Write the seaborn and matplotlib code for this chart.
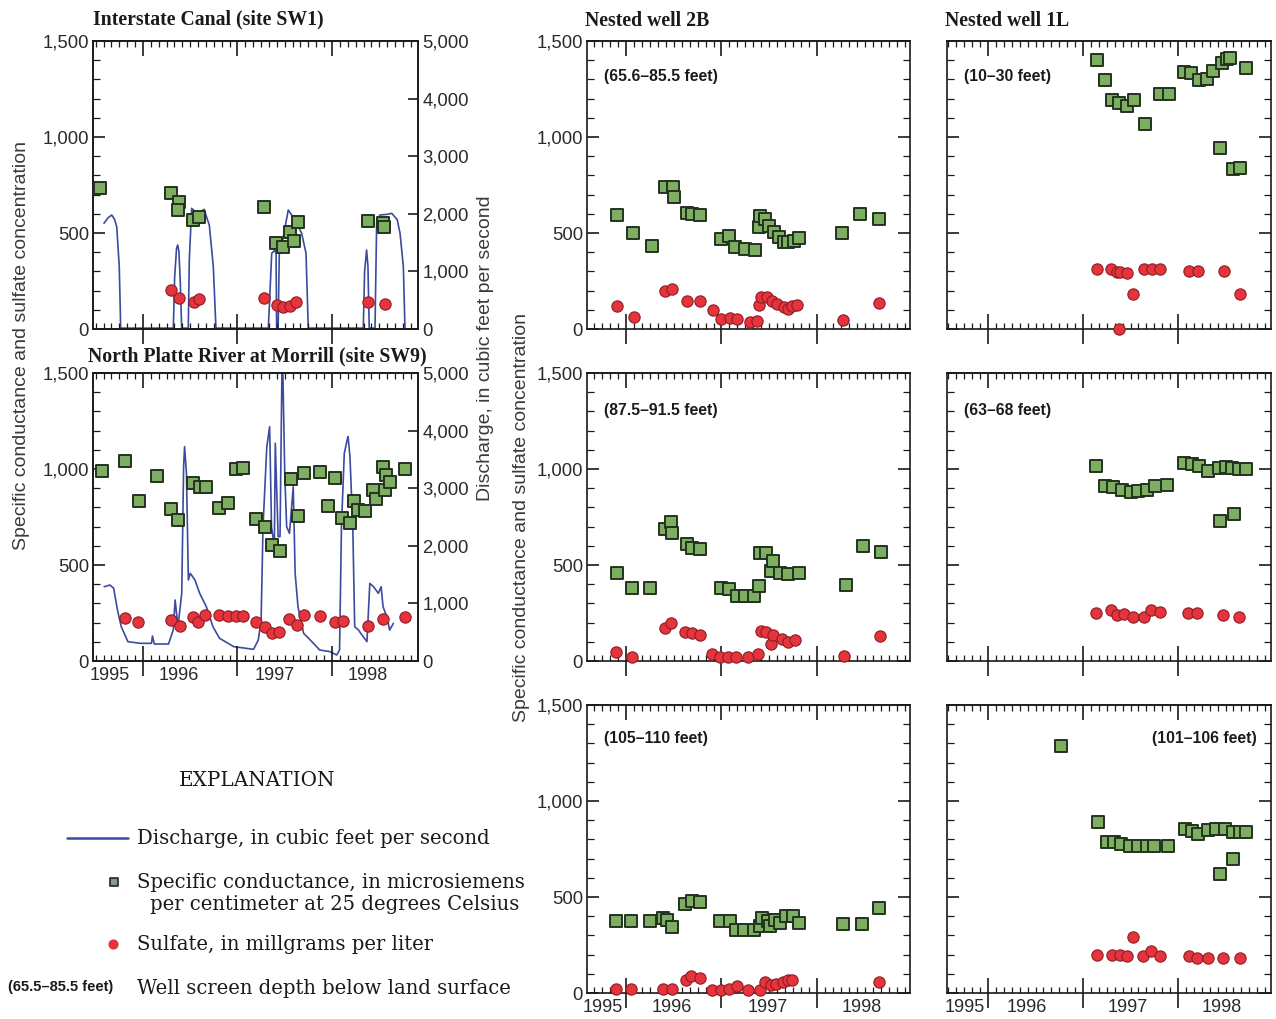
import numpy as np
import pandas as pd
import matplotlib
matplotlib.use('Agg')
import matplotlib.pyplot as plt
from matplotlib.ticker import MultipleLocator, FuncFormatter, NullFormatter
import seaborn as sns

sns.set_theme(style='ticks')
plt.rcParams['font.family'] = ['Liberation Sans', 'DejaVu Sans']

# ---- data (decimal years) ----
year_ticks = [1996, 1997, 1998]
year_labels = ['1995', '1996', '1997', '1998']

# Interstate Canal (SW1)
sw1_q_year = [1995.587, 1995.63, 1995.669, 1995.70, 1995.722, 1995.749, 1995.764,
              1996.321, 1996.335, 1996.355, 1996.367, 1996.38, 1996.395, 1996.409,
              1996.479, 1996.49, 1996.515, 1996.58, 1996.646, 1996.702, 1996.744, 1996.772,
              1997.326, 1997.34, 1997.362, 1997.397, 1997.408, 1997.414, 1997.43,
              1997.443, 1997.467, 1997.492, 1997.537, 1997.608, 1997.679, 1997.725, 1997.749,
              1998.331, 1998.345, 1998.366, 1998.38, 1998.394,
              1998.455, 1998.473, 1998.508, 1998.58, 1998.632, 1998.69, 1998.720, 1998.755, 1998.772]
sw1_q = [1835, 1930, 1979, 1900, 1776, 1082, 15,
         15, 900, 1400, 1458, 1350, 800, 15,
         15, 1200, 2095, 2000, 2078, 1800, 1082, 15,
         15, 503, 1314, 1371, 1300, 15, 15,
         1400, 1450, 1661, 2066, 1892, 1661, 1314, 15,
         15, 1000, 1371, 1100, 15,
         15, 1892, 1979, 1990, 2008, 1900, 1661, 1082, 15]
sw1_sc_year = [1995.545, 1996.30, 1996.38, 1996.37, 1996.53, 1996.59, 1997.28, 1997.41,
               1997.48, 1997.56, 1997.60, 1997.64, 1998.38, 1998.54, 1998.55]
sw1_sc = [733, 710, 663, 620, 568, 582, 634, 446, 429, 507, 460, 559, 564, 550, 530]
sw1_so4_year = [1996.30, 1996.38, 1996.54, 1996.59, 1997.28, 1997.42, 1997.48, 1997.56,
                1997.62, 1998.38, 1998.56]
sw1_so4 = [203, 163, 142, 156, 163, 125, 116, 120, 142, 142, 130]

# North Platte River at Morrill (SW9)
sw9_q_year = [1995.59, 1995.65, 1995.69, 1995.73, 1995.77, 1995.84, 1995.97,
              1996.09, 1996.10, 1996.12, 1996.27, 1996.32, 1996.34, 1996.37, 1996.41,
              1996.43, 1996.44, 1996.46, 1996.48, 1996.50,
              1996.55, 1996.60, 1996.67, 1996.74, 1996.81, 1996.96,
              1997.17, 1997.22, 1997.25, 1997.27, 1997.31, 1997.34, 1997.36, 1997.39,
              1997.40, 1997.43, 1997.45, 1997.47, 1997.48, 1997.50, 1997.52, 1997.55,
              1997.59, 1997.61, 1997.64, 1997.70, 1997.77, 1997.87, 1997.98,
              1998.05, 1998.08, 1998.10, 1998.13, 1998.16, 1998.17, 1998.19, 1998.22,
              1998.24, 1998.28, 1998.33, 1998.37, 1998.40, 1998.44, 1998.49, 1998.52,
              1998.54, 1998.58, 1998.61, 1998.65]
sw9_q = [1290, 1319, 1262, 885, 596, 336, 307,
         307, 434, 295, 295, 538, 1059, 596, 1175,
         3374, 3721, 3258, 1406, 1522,
         1406, 1175, 943, 596, 394, 249,
         203, 365, 712, 2332, 3721, 4068, 2332, 1985,
         3779, 2159, 2159, 4994, 5000, 3258, 2332, 2216,
         3027, 1522, 943, 480, 365, 191, 162,
         104, 191, 2332, 3605, 3837, 3895, 3547, 2332,
         596, 538, 422, 336, 1348, 1290, 1175, 1290,
         943, 770, 538, 654]
sw9_sc_year = [1995.563, 1995.81, 1995.96, 1996.15, 1996.30, 1996.37, 1996.53, 1996.60,
               1996.67, 1996.80, 1996.90, 1996.98, 1997.06, 1997.20, 1997.29, 1997.37,
               1997.45, 1997.57, 1997.64, 1997.70, 1997.87, 1997.96, 1998.03, 1998.11,
               1998.19, 1998.23, 1998.28, 1998.35, 1998.43, 1998.47, 1998.54, 1998.57,
               1998.56, 1998.61, 1998.77]
sw9_sc = [990, 1042, 833, 963, 790, 734, 929, 908, 908, 799, 825, 998, 1003, 740, 696, 604,
          573, 946, 755, 981, 986, 807, 951, 743, 717, 833, 786, 783, 891, 842, 1009, 969,
          891, 934, 1000]
sw9_so4_year = [1995.81, 1995.95, 1996.30, 1996.39, 1996.53, 1996.58, 1996.66, 1996.80,
                1996.90, 1996.98, 1997.06, 1997.20, 1997.29, 1997.36, 1997.44, 1997.55,
                1997.63, 1997.70, 1997.87, 1998.03, 1998.12, 1998.38, 1998.54, 1998.77]
sw9_so4 = [226, 205, 214, 182, 227, 205, 240, 240, 234, 234, 234, 205, 175, 144, 153, 217,
           187, 240, 234, 205, 210, 182, 217, 231]

# Nested well 2B
w2b_a_sc_year = [1995.91, 1996.07, 1996.27, 1996.41, 1996.49, 1996.50, 1996.64, 1996.69,
                 1996.78, 1996.99, 1997.08, 1997.14, 1997.25, 1997.35, 1997.39, 1997.40,
                 1997.46, 1997.50, 1997.55, 1997.60, 1997.65, 1997.70, 1997.76, 1997.81,
                 1998.26, 1998.45, 1998.65]
w2b_a_sc = [593, 499, 434, 737, 740, 685, 602, 598, 593, 468, 486, 425, 416, 413, 532, 586,
            572, 538, 503, 477, 451, 451, 460, 472, 499, 598, 572]
w2b_a_so4_year = [1995.91, 1996.08, 1996.41, 1996.48, 1996.64, 1996.78, 1996.91, 1997.00,
                  1997.09, 1997.16, 1997.30, 1997.37, 1997.39, 1997.41, 1997.48, 1997.53,
                  1997.58, 1997.65, 1997.70, 1997.74, 1997.79, 1998.27, 1998.65]
w2b_a_so4 = [121, 61, 199, 208, 147, 147, 99, 52, 55, 52, 38, 43, 125, 168, 165, 147, 130,
             113, 104, 121, 125, 49, 135]

w2b_b_sc_year = [1995.91, 1996.06, 1996.25, 1996.41, 1996.47, 1996.48, 1996.64, 1996.69,
                 1996.78, 1996.99, 1997.08, 1997.16, 1997.25, 1997.34, 1997.39, 1997.40,
                 1997.47, 1997.52, 1997.54, 1997.61, 1997.70, 1997.81, 1998.30, 1998.48,
                 1998.67]
w2b_b_sc = [460, 381, 380, 685, 723, 668, 607, 590, 581, 381, 376, 338, 338, 338, 390, 564,
            564, 468, 520, 460, 451, 460, 394, 598, 569]
w2b_b_so4_year = [1995.90, 1996.06, 1996.41, 1996.47, 1996.62, 1996.69, 1996.78, 1996.90,
                  1996.98, 1997.07, 1997.15, 1997.28, 1997.38, 1997.41, 1997.47, 1997.52,
                  1997.54, 1997.63, 1997.70, 1997.77, 1998.28, 1998.66]
w2b_b_so4 = [49, 21, 173, 199, 151, 144, 137, 38, 21, 21, 21, 21, 35, 156, 151, 87, 135,
             113, 101, 109, 26, 130]

w2b_c_sc_year = [1995.90, 1996.05, 1996.25, 1996.39, 1996.43, 1996.48, 1996.62, 1996.69,
                 1996.78, 1996.98, 1997.09, 1997.15, 1997.24, 1997.34, 1997.40, 1997.42,
                 1997.49, 1997.51, 1997.56, 1997.61, 1997.68, 1997.75, 1997.81, 1998.27,
                 1998.47, 1998.65]
w2b_c_sc = [373, 373, 373, 390, 381, 343, 463, 480, 472, 373, 373, 329, 326, 326, 347, 390,
            373, 347, 381, 364, 402, 402, 364, 361, 361, 442]
w2b_c_so4_year = [1995.90, 1996.05, 1996.39, 1996.48, 1996.63, 1996.68, 1996.77, 1996.90,
                  1996.99, 1997.08, 1997.16, 1997.28, 1997.40, 1997.46, 1997.52, 1997.57,
                  1997.64, 1997.70, 1997.74, 1998.65]
w2b_c_so4 = [21, 21, 21, 21, 69, 87, 78, 17, 17, 21, 35, 17, 17, 55, 43, 49, 59, 69, 69, 59]

# Nested well 1L
w1l_a_sc_year = [1997.15, 1997.23, 1997.31, 1997.38, 1997.46, 1997.54, 1997.65, 1997.81,
                 1997.90, 1998.06, 1998.14, 1998.22, 1998.31, 1998.37, 1998.44, 1998.46,
                 1998.52, 1998.55, 1998.58, 1998.65, 1998.72]
w1l_a_sc = [1399, 1297, 1193, 1179, 1162, 1193, 1070, 1226, 1226, 1339, 1335, 1297, 1300,
            1344, 942, 1387, 1405, 1413, 832, 836, 1361]
w1l_a_so4_year = [1997.15, 1997.29, 1997.36, 1997.39, 1997.46, 1997.53, 1997.64, 1997.73,
                  1997.81, 1998.12, 1998.21, 1998.48, 1998.65, 1997.38]
w1l_a_so4 = [312, 312, 298, 295, 291, 182, 312, 312, 312, 303, 303, 303, 182, 0]

w1l_b_sc_year = [1997.14, 1997.23, 1997.32, 1997.41, 1997.50, 1997.58, 1997.67, 1997.76,
                 1997.88, 1998.06, 1998.15, 1998.22, 1998.32, 1998.43, 1998.51, 1998.57,
                 1998.64, 1998.72, 1998.44, 1998.59]
w1l_b_sc = [1014, 913, 906, 892, 878, 884, 892, 910, 918, 1031, 1026, 1014, 988, 1005, 1010,
            1005, 1002, 1000, 727, 767]
w1l_b_so4_year = [1997.14, 1997.29, 1997.36, 1997.43, 1997.53, 1997.64, 1997.72, 1997.81,
                  1998.11, 1998.20, 1998.47, 1998.64]
w1l_b_so4 = [250, 264, 241, 247, 229, 229, 264, 253, 250, 250, 241, 229]

w1l_c_sc_year = [1996.77, 1997.16, 1997.25, 1997.33, 1997.40, 1997.49, 1997.58, 1997.67,
                 1997.75, 1997.89, 1998.07, 1998.15, 1998.21, 1998.32, 1998.40, 1998.49,
                 1998.58, 1998.65, 1998.72, 1998.44, 1998.58]
w1l_c_sc = [1286, 892, 787, 787, 775, 765, 765, 768, 768, 768, 852, 845, 827, 848, 852, 852,
            839, 839, 839, 619, 700]
w1l_c_so4_year = [1997.15, 1997.30, 1997.39, 1997.46, 1997.53, 1997.63, 1997.72, 1997.81,
                  1998.12, 1998.20, 1998.32, 1998.47, 1998.65]
w1l_c_so4 = [196, 200, 200, 193, 292, 193, 217, 193, 193, 184, 184, 184, 184]

depth_labels = ['(65.6\u201385.5 feet)', '(87.5\u201391.5 feet)', '(105\u2013110 feet)',
                '(10\u201330 feet)', '(63\u201368 feet)', '(101\u2013106 feet)']

# ---- styling ----
BLUE = '#3b4b9e'
SQ_FACE = '#7dae62'
SQ_EDGE = '#22331f'
CI_FACE = '#e5343c'
CI_EDGE = '#8e1c26'
TXT = '#2a2a2a'
SERIF = ['Liberation Serif', 'DejaVu Serif']
SERIF_WIDE = ['DejaVu Serif']
NARROW = ['Liberation Sans Narrow', 'Liberation Sans']
TICK_FS = 13.3

W, H = 1276, 1019
fig = plt.figure(figsize=(W / 100, H / 100), dpi=100)
fig.patch.set_facecolor('white')


def px_axes(x0, y0, x1, y1):
    return fig.add_axes([x0 / W, 1 - y1 / H, (x1 - x0) / W, (y1 - y0) / H])


comma = FuncFormatter(lambda v, p: f'{v:,.0f}')


def style_axes(ax, xlim, ylabels=True, right_ticks=True, label_pos=None):
    ax.set_facecolor('white')
    ax.set_xlim(*xlim)
    ax.set_ylim(0, 1500)
    ax.set_xlabel('')
    ax.set_ylabel('')
    for s in ax.spines.values():
        s.set_visible(True)
        s.set_linewidth(1.2)
        s.set_color('#1a1a1a')
    ax.set_xticks(year_ticks)
    ax.xaxis.set_minor_locator(MultipleLocator(1 / 12))
    ax.xaxis.set_major_formatter(NullFormatter())
    ax.tick_params(axis='x', which='major', direction='inout', length=22, width=1.2,
                   bottom=True, top=False, labelbottom=False, color='#1a1a1a')
    ax.tick_params(axis='x', which='minor', direction='in', length=4.5, width=0.9,
                   bottom=True, top=False, color='#1a1a1a')
    top = ax.secondary_xaxis('top')
    top.set_xticks(year_ticks)
    top.xaxis.set_minor_locator(MultipleLocator(1 / 12))
    top.xaxis.set_major_formatter(NullFormatter())
    top.tick_params(which='major', direction='in', length=11, width=1.2, color='#1a1a1a')
    top.tick_params(which='minor', direction='in', length=4.5, width=0.9, color='#1a1a1a')
    top.spines['top'].set_linewidth(1.2)
    ax.yaxis.set_major_locator(MultipleLocator(500))
    ax.yaxis.set_minor_locator(MultipleLocator(100))
    ax.yaxis.set_major_formatter(comma)
    ax.tick_params(axis='y', which='major', direction='in', length=8.5, width=1.2,
                   left=True, right=right_ticks, labelleft=ylabels, pad=3,
                   labelsize=TICK_FS, labelcolor=TXT, color='#1a1a1a')
    ax.tick_params(axis='y', which='minor', direction='in', length=5, width=0.9,
                   left=True, right=right_ticks, color='#1a1a1a')
    if label_pos is not None:
        for pos, lab in zip(label_pos, year_labels):
            ax.text(pos, -0.052, lab, transform=ax.get_xaxis_transform(),
                    ha='center', va='center', fontsize=13, color=TXT)


def draw_points(ax, sc_year, sc, so4_year, so4):
    sns.scatterplot(x=sc_year, y=sc, ax=ax, marker='s', s=72, color=SQ_FACE,
                    edgecolor=SQ_EDGE, linewidth=1.4, zorder=3, clip_on=False)
    sns.scatterplot(x=so4_year, y=so4, ax=ax, marker='o', s=66, color=CI_FACE,
                    edgecolor=CI_EDGE, linewidth=0.8, zorder=4, clip_on=False)


# ---- left column: surface-water sites with discharge ----
left_xlim = (1995.471, 1998.910)
left_sites = [
    ((93, 41, 418, 329), sw1_q_year, sw1_q, sw1_sc_year, sw1_sc, sw1_so4_year, sw1_so4, None),
    ((93, 373, 418, 661), sw9_q_year, sw9_q, sw9_sc_year, sw9_sc, sw9_so4_year, sw9_so4,
     [1995.65, 1996.38, 1997.39, 1998.38]),
]
for rect, qy, q, scy, sc, soy, so, lpos in left_sites:
    ax = px_axes(*rect)
    axq = ax.twinx()
    sns.lineplot(x=qy, y=q, ax=axq, color=BLUE, linewidth=1.2, sort=False, estimator=None)
    axq.set_ylim(0, 5000)
    axq.set_ylabel('')
    axq.yaxis.set_major_locator(MultipleLocator(1000))
    axq.yaxis.set_major_formatter(comma)
    axq.tick_params(axis='y', which='major', direction='in', length=7, width=1.2, pad=3,
                    labelsize=TICK_FS, labelcolor=TXT, color='#1a1a1a')
    axq.tick_params(axis='y', which='minor', length=0)
    for s in axq.spines.values():
        s.set_linewidth(1.2)
        s.set_color('#1a1a1a')
    ax.set_zorder(axq.get_zorder() + 1)
    ax.patch.set_visible(False)
    draw_points(ax, scy, sc, soy, so)
    style_axes(ax, left_xlim, ylabels=True, right_ticks=False, label_pos=lpos)
    ax.patch.set_visible(False)

# ---- right columns: nested wells ----
mid_xlim = (1995.592, 1998.974)
right_xlim = (1995.568, 1998.979)
rows = [(41, 329), (373, 661), (705, 993)]
wells = [
    (587, 910, mid_xlim, True, [
        (w2b_a_sc_year, w2b_a_sc, w2b_a_so4_year, w2b_a_so4),
        (w2b_b_sc_year, w2b_b_sc, w2b_b_so4_year, w2b_b_so4),
        (w2b_c_sc_year, w2b_c_sc, w2b_c_so4_year, w2b_c_so4)],
     [1995.76, 1996.48, 1997.48, 1998.47], depth_labels[:3]),
    (947, 1271, right_xlim, False, [
        (w1l_a_sc_year, w1l_a_sc, w1l_a_so4_year, w1l_a_so4),
        (w1l_b_sc_year, w1l_b_sc, w1l_b_so4_year, w1l_b_so4),
        (w1l_c_sc_year, w1l_c_sc, w1l_c_so4_year, w1l_c_so4)],
     [1995.76, 1996.41, 1997.47, 1998.46], depth_labels[3:]),
]
for x0, x1, xlim, ylab, series, lpos, depths in wells:
    for i, ((y0, y1), data, depth) in enumerate(zip(rows, series, depths)):
        ax = px_axes(x0, y0, x1, y1)
        draw_points(ax, *data)
        style_axes(ax, xlim, ylabels=ylab, right_ticks=True,
                   label_pos=lpos if i == 2 else None)
        dy = [35, 38, 34][i]
        if x0 == 947 and i == 2:
            ax.text(1 - 14 / (x1 - x0), 1 - dy / 288, depth, transform=ax.transAxes,
                    ha='right', va='center', fontsize=11.3, fontweight='bold',
                    family=NARROW, color='#1a1a1a')
        else:
            ax.text(17 / (x1 - x0), 1 - dy / 288, depth, transform=ax.transAxes,
                    ha='left', va='center', fontsize=11.3, fontweight='bold',
                    family=NARROW, color='#1a1a1a')

# ---- titles and axis labels ----
title_kw = dict(ha='left', va='center', fontsize=14.2, fontweight='bold', family=SERIF,
                color='#1a1a1a')
fig.text(93 / W, 1 - 19 / H, 'Interstate Canal (site SW1)', **title_kw)
fig.text(88 / W, 1 - 356 / H, 'North Platte River at Morrill (site SW9)', **title_kw)
fig.text(585 / W, 1 - 21 / H, 'Nested well 2B', **title_kw)
fig.text(945 / W, 1 - 21 / H, 'Nested well 1L', **title_kw)

ylab_kw = dict(rotation=90, ha='center', va='center', fontsize=14, color='#3a3a3a')
fig.text(22 / W, 1 - 345 / H, 'Specific conductance and sulfate concentration', **ylab_kw)
fig.text(485 / W, 1 - 348 / H, 'Discharge, in cubic feet per second', **ylab_kw)
fig.text(522 / W, 1 - 517 / H, 'Specific conductance and sulfate concentration', **ylab_kw)

# ---- explanation ----
leg = px_axes(0, 760, 530, 1019)
leg.set_xlim(0, 530)
leg.set_ylim(259, 0)
leg.axis('off')
ser_kw = dict(ha='left', va='center', fontsize=14.1, family=SERIF_WIDE, color='#1a1a1a')
leg.text(257, 20, 'EXPLANATION', ha='center', va='center', fontsize=14.4, family=SERIF_WIDE,
         color='#1a1a1a')
leg.plot([67, 128], [78, 78], color=BLUE, linewidth=1.8)
leg.text(137, 79, 'Discharge, in cubic feet per second', **ser_kw)
leg.scatter([114], [122], marker='s', s=38, color='#8a9a8a', edgecolor='#222222',
            linewidth=1.2)
leg.text(137, 122, 'Specific conductance, in microsiemens', **ser_kw)
leg.text(150, 144, 'per centimeter at 25 degrees Celsius', **ser_kw)
leg.scatter([113], [184], marker='o', s=40, color=CI_FACE, edgecolor=CI_FACE)
leg.text(137, 185, 'Sulfate, in millgrams per liter', **ser_kw)
leg.text(8, 227, '(65.5\u201385.5 feet)', ha='left', va='center', fontsize=10.5,
         fontweight='bold', family=NARROW, color='#1a1a1a')
leg.text(137, 228, 'Well screen depth below land surface', **ser_kw)

fig.savefig('out.png', dpi=100, facecolor='white')
